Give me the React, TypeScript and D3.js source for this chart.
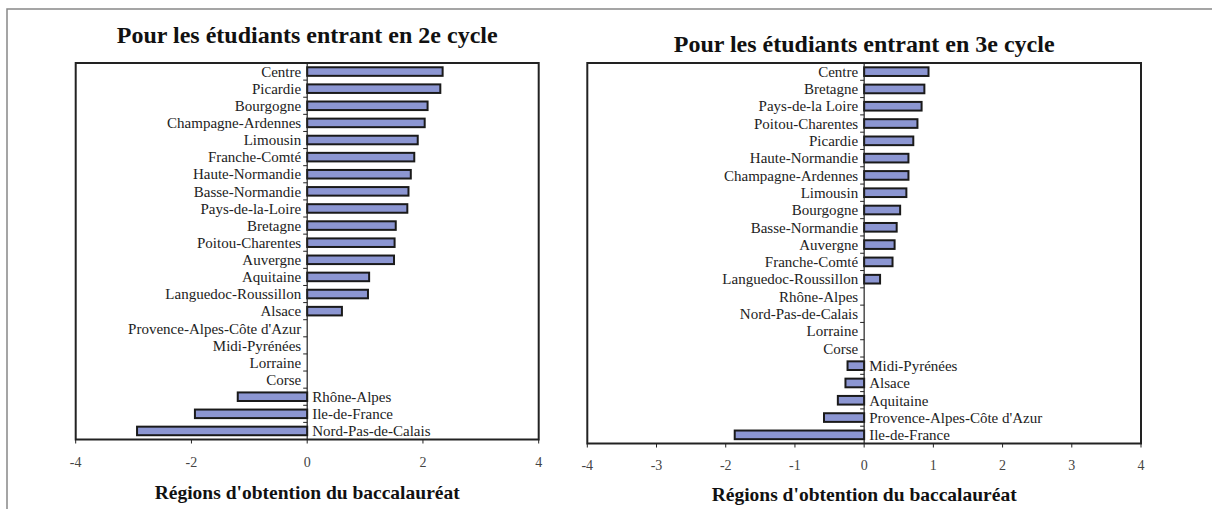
import React from "react";
import * as d3 from "d3";

const catsLeft = [
  "Centre", "Picardie", "Bourgogne", "Champagne-Ardennes", "Limousin", "Franche-Comté",
  "Haute-Normandie", "Basse-Normandie", "Pays-de-la-Loire", "Bretagne", "Poitou-Charentes",
  "Auvergne", "Aquitaine", "Languedoc-Roussillon", "Alsace", "Provence-Alpes-Côte d'Azur",
  "Midi-Pyrénées", "Lorraine", "Corse", "Rhône-Alpes", "Ile-de-France", "Nord-Pas-de-Calais",
];
const valsLeft = [
  2.34, 2.3, 2.08, 2.03, 1.91, 1.85, 1.79, 1.75, 1.73, 1.53, 1.51, 1.5, 1.07, 1.05, 0.6,
  0, 0, 0, 0, -1.2, -1.94, -2.94,
];
const ticksLeft = [-4, -2, 0, 2, 4];

const catsRight = [
  "Centre", "Bretagne", "Pays-de-la Loire", "Poitou-Charentes", "Picardie", "Haute-Normandie",
  "Champagne-Ardennes", "Limousin", "Bourgogne", "Basse-Normandie", "Auvergne", "Franche-Comté",
  "Languedoc-Roussillon", "Rhône-Alpes", "Nord-Pas-de-Calais", "Lorraine", "Corse",
  "Midi-Pyrénées", "Alsace", "Aquitaine", "Provence-Alpes-Côte d'Azur", "Ile-de-France",
];
const valsRight = [
  0.93, 0.87, 0.83, 0.77, 0.71, 0.64, 0.64, 0.61, 0.52, 0.47, 0.44, 0.41, 0.23, 0, 0, 0, 0,
  -0.24, -0.27, -0.38, -0.58, -1.87,
];
const ticksRight = [-4, -3, -2, -1, 0, 1, 2, 3, 4];

const titleLeft = "Pour les étudiants entrant en 2e cycle";
const titleRight = "Pour les étudiants entrant en 3e cycle";
const axisTitle = "Régions d'obtention du baccalauréat";

const FONT = "'Liberation Serif', 'Times New Roman', serif";

type PanelProps = {
  cats: string[];
  vals: number[];
  ticks: number[];
  title: string;
  x0: number;
  x1: number;
  y0: number;
  y1: number;
  titleY: number;
  tickY: number;
  axisTitleY: number;
};

function Panel({ cats, vals, ticks, title, x0, x1, y0, y1, titleY, tickY, axisTitleY }: PanelProps) {
  const x = d3.scaleLinear().domain([-4, 4]).range([x0, x1]);
  const y = d3.scaleBand<string>().domain(cats).range([y0, y1]).paddingInner(0.5).paddingOuter(0.25);
  const zx = x(0);
  const bounds = d3.range(1, cats.length).map((i) => y0 + (y1 - y0) * (i / cats.length));
  const cx = (x0 + x1) / 2;
  return (
    <g>
      <text x={cx} y={titleY} textAnchor="middle" fontFamily={FONT} fontWeight="bold" fontSize={24} fill="#111">
        {title}
      </text>
      <rect x={x0} y={y0} width={x1 - x0} height={y1 - y0} fill="none" stroke="#222" strokeWidth={2} />
      {cats.map((c, i) => {
        const v = vals[i];
        if (v === 0) return null;
        const xa = Math.min(x(v), zx);
        const w = Math.abs(x(v) - zx);
        return (
          <rect key={c} x={xa} y={y(c)!} width={w} height={y.bandwidth()} fill="#8c96d2" stroke="#1a1a1a" strokeWidth={2} />
        );
      })}
      <line x1={zx} x2={zx} y1={y0} y2={y1} stroke="#222" strokeWidth={1.2} />
      {bounds.map((b, i) => (
        <line key={i} x1={zx - 4} x2={zx} y1={b} y2={b} stroke="#222" strokeWidth={1} />
      ))}
      {cats.map((c, i) => {
        const v = vals[i];
        const cy = y(c)! + y.bandwidth() / 2;
        const neg = v < 0;
        return (
          <text key={c} x={neg ? zx + 5 : zx - 6} y={cy} dy="0.35em" textAnchor={neg ? "start" : "end"} fontFamily={FONT} fontSize={15} fill="#222">
            {c}
          </text>
        );
      })}
      {ticks.map((t) => (
        <g key={t}>
          <line x1={x(t)} x2={x(t)} y1={y1} y2={y1 + 4} stroke="#222" strokeWidth={1} />
          <text x={x(t)} y={tickY} dy="0.35em" textAnchor="middle" fontFamily={FONT} fontSize={14} fill="#444">
            {t}
          </text>
        </g>
      ))}
      <text x={cx} y={axisTitleY} dy="0.35em" textAnchor="middle" fontFamily={FONT} fontWeight="bold" fontSize={19.5} fill="#111">
        {axisTitle}
      </text>
    </g>
  );
}

export default function App() {
  return (
    <svg width={1212} height={509} style={{ position: "absolute", left: 0, top: 0, background: "#fff" }}>
      <rect x={0} y={0} width={1212} height={509} fill="#fff" />
      <rect x={7} y={9} width={1230} height={530} fill="none" stroke="#888" strokeWidth={1.5} />
      <Panel cats={catsLeft} vals={valsLeft} ticks={ticksLeft} title={titleLeft}
        x0={75.7} x1={538.7} y0={63} y1={439.5} titleY={43} tickY={462} axisTitleY={492} />
      <Panel cats={catsRight} vals={valsRight} ticks={ticksRight} title={titleRight}
        x0={587.3} x1={1141} y0={63} y1={443.5} titleY={52} tickY={465} axisTitleY={494} />
    </svg>
  );
}
